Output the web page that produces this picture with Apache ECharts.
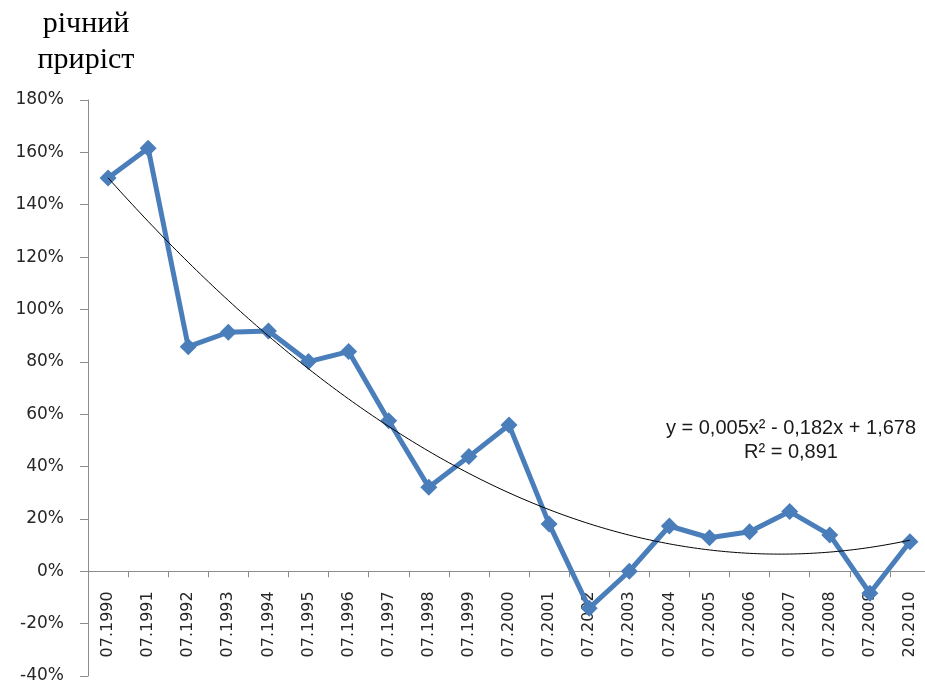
<!DOCTYPE html>
<html>
<head>
<meta charset="utf-8">
<script src="https://cdn.jsdelivr.net/npm/echarts@6/dist/echarts.min.js"></script>
<style>
html,body{margin:0;padding:0;background:#fff;}
#chart{width:925px;height:686px;}
</style>
</head>
<body>
<div id="chart"></div>
<script>
const categories = ['07.1990','07.1991','07.1992','07.1993','07.1994','07.1995','07.1996','07.1997','07.1998','07.1999','07.2000','07.2001','07.2002','07.2003','07.2004','07.2005','07.2006','07.2007','07.2008','07.2009','20.2010'];
const growth = [150.2, 161.6, 85.8, 91.3, 91.8, 80.1, 83.9, 57.5, 32.1, 43.8, 55.9, 18.1, -14.1, 0, 17.3, 12.8, 15.1, 22.8, 13.9, -8.4, 11.3];
const yMin = -40, yMax = 180, yStep = 20;
const titleLines = ['річний', 'приріст'];
const trendLabel = ['y = 0,005x² - 0,182x + 1,678', 'R² = 0,891'];

// Quadratic least-squares trendline (as Excel's polynomial trendline, x = 1..n)
function quadFit(ys) {
  let S = [0,0,0,0,0], T = [0,0,0];
  ys.forEach((y, i) => {
    const x = i + 1;
    for (let k = 0; k < 5; k++) S[k] += Math.pow(x, k);
    for (let k = 0; k < 3; k++) T[k] += y * Math.pow(x, k);
  });
  const A = [[S[0],S[1],S[2],T[0]],[S[1],S[2],S[3],T[1]],[S[2],S[3],S[4],T[2]]];
  for (let c = 0; c < 3; c++) {
    for (let r = c + 1; r < 3; r++) {
      const f = A[r][c] / A[c][c];
      for (let k = c; k < 4; k++) A[r][k] -= f * A[c][k];
    }
  }
  const sol = [0,0,0];
  for (let r = 2; r >= 0; r--) {
    let s = A[r][3];
    for (let k = r + 1; k < 3; k++) s -= A[r][k] * sol[k];
    sol[r] = s / A[r][r];
  }
  return sol; // c0, c1, c2
}
const coef = quadFit(growth);
const trendPts = [];
for (let x = 1; x <= growth.length + 1e-9; x += 0.1) {
  trendPts.push([x, coef[0] + coef[1] * x + coef[2] * x * x]);
}

const gridTop = 100, gridBottom = 10, chartH = 686;
const plotH = chartH - gridTop - gridBottom;
const zeroOffset = -plotH * (0 - yMin) / (yMax - yMin); // move category axis up to the 0% line

const chart = echarts.init(document.getElementById('chart'));
chart.setOption({
  animation: false,
  backgroundColor: '#ffffff',
  grid: { left: 88, right: -5, top: gridTop, bottom: gridBottom, containLabel: false, outerBoundsMode: 'none' },
  graphic: [
    { type: 'text', x: 86, y: 24, style: { text: titleLines[0], font: '30px "Liberation Serif", serif', fill: '#000', align: 'center', verticalAlign: 'middle' } },
    { type: 'text', x: 86, y: 60, style: { text: titleLines[1], font: '30px "Liberation Serif", serif', fill: '#000', align: 'center', verticalAlign: 'middle' } },
    { type: 'text', x: 791, y: 428, style: { text: trendLabel[0], font: '20px "Liberation Sans", Arial, sans-serif', fill: '#1a1a1a', align: 'center', verticalAlign: 'middle' } },
    { type: 'text', x: 791, y: 452, style: { text: trendLabel[1], font: '20px "Liberation Sans", Arial, sans-serif', fill: '#1a1a1a', align: 'center', verticalAlign: 'middle' } }
  ],
  xAxis: [
    {
      type: 'category',
      data: categories,
      boundaryGap: true,
      offset: zeroOffset,
      z: 0,
      axisLine: { onZero: false, lineStyle: { color: '#8c8c8c', width: 1 } },
      axisTick: { show: true, interval: 0, length: 6, lineStyle: { color: '#8c8c8c' } },
      axisLabel: { show: true, interval: 0, rotate: 90, margin: 20, hideOverlap: false, color: '#262626', fontFamily: '"DejaVu Sans", Verdana, sans-serif', fontSize: 16 },
      splitLine: { show: false }
    },
    {
      type: 'value',
      min: 0.5,
      max: growth.length + 0.5,
      show: false,
      position: 'bottom'
    }
  ],
  yAxis: {
    type: 'value',
    min: yMin,
    max: yMax,
    interval: yStep,
    z: 0,
    axisLine: { show: true, onZero: false, lineStyle: { color: '#8c8c8c', width: 1 } },
    axisTick: { show: true, length: 8, lineStyle: { color: '#8c8c8c' } },
    axisLabel: { formatter: '{value}%', margin: 24, color: '#262626', fontFamily: '"DejaVu Sans", Verdana, sans-serif', fontSize: 17 },
    splitLine: { show: false }
  },
  series: [
    {
      type: 'line',
      data: growth,
      xAxisIndex: 0,
      symbol: 'diamond',
      symbolSize: 17,
      showAllSymbol: true,
      lineStyle: { color: '#4a7ebb', width: 5 },
      itemStyle: { color: '#4a7ebb' },
      zlevel: 1,
      z: 5
    },
    {
      type: 'line',
      data: trendPts,
      xAxisIndex: 1,
      symbol: 'none',
      lineStyle: { color: '#000', width: 1 },
      zlevel: 1,
      z: 6
    }
  ]
});
</script>
</body>
</html>
